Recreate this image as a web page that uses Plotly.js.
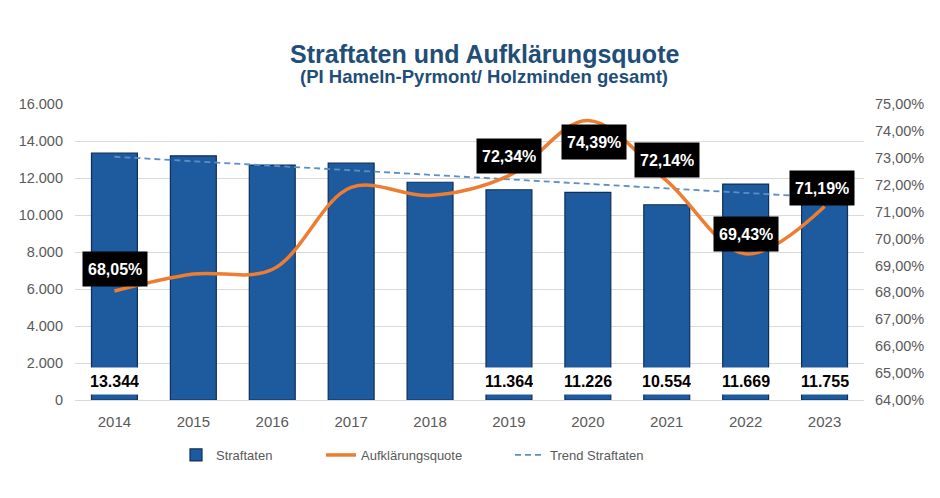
<!DOCTYPE html>
<html>
<head>
<meta charset="utf-8">
<script src="https://cdn.plot.ly/plotly-3.0.1.min.js"></script>
<style>
  html, body { margin: 0; padding: 0; background: #ffffff; }
  #chart { width: 940px; height: 498px; }
</style>
</head>
<body>
<div id="chart"></div>
<script>
// ---- data ----
const years = ['2014', '2015', '2016', '2017', '2018', '2019', '2020', '2021', '2022', '2023'];
const straftaten = [13344, 13200, 12700, 12800, 11770, 11364, 11226, 10554, 11669, 11755];
const aufklaerungsquote = [68.05, 68.68, 68.85, 71.9, 71.6, 72.34, 74.39, 72.14, 69.43, 71.19];
const trendYears = ['2014', '2023'];
const trendValues = [13150, 10950];
const labelledBarYears = ['2014', '2019', '2020', '2021', '2022', '2023'];
const labelledQuoteYears = ['2014', '2019', '2020', '2021', '2022', '2023'];
const leftTicks = [0, 2000, 4000, 6000, 8000, 10000, 12000, 14000, 16000];
const rightTicks = [64, 65, 66, 67, 68, 69, 70, 71, 72, 73, 74, 75];

// ---- label offsets (style only) ----
const quoteLabelShift = {
  '2014': [1, 22], '2019': [0, 20], '2020': [6, -22],
  '2021': [0, 21], '2022': [0, 20], '2023': [-3, 19]
};

const FONT = 'Liberation Sans, Arial, sans-serif';
const fmtInt = v => String(v).replace(/\B(?=(\d{3})+(?!\d))/g, '.');
const fmtPct = v => v.toFixed(2).replace('.', ',') + '%';

const traces = [
  {
    type: 'bar', name: 'Straftaten', x: years, y: straftaten,
    marker: { color: '#1e5a9e', line: { color: '#0e2f5a', width: 1.2 } },
    legend: 'legend', hoverinfo: 'skip'
  },
  {
    type: 'scatter', mode: 'lines', name: 'Aufklärungsquote', x: years, y: aufklaerungsquote,
    yaxis: 'y2', line: { color: '#ed7d31', width: 3.5, shape: 'spline', smoothing: 1 },
    legend: 'legend2', hoverinfo: 'skip'
  },
  {
    type: 'scatter', mode: 'lines', name: 'Trend Straftaten', x: trendYears, y: trendValues,
    line: { color: '#5b8fc7', width: 1.8, dash: '6px,4px' },
    legend: 'legend3', hoverinfo: 'skip'
  }
];

const annotations = [];
annotations.push({
  xref: 'paper', yref: 'paper', x: 0.5184, y: 1.17, xanchor: 'center', yanchor: 'middle',
  text: '<b>Straftaten und Aufklärungsquote</b>', showarrow: false,
  font: { family: FONT, size: 25, color: '#1f4e79' }
});
annotations.push({
  xref: 'paper', yref: 'paper', x: 0.5184, y: 1.092, xanchor: 'center', yanchor: 'middle',
  text: '<b>(PI Hameln-Pyrmont/ Holzminden gesamt)</b>', showarrow: false,
  font: { family: FONT, size: 18.5, color: '#1f4e79' }
});

labelledBarYears.forEach(yr => {
  const i = years.indexOf(yr);
  annotations.push({
    xref: 'x', yref: 'y', x: i, y: 0, xanchor: 'center', yanchor: 'bottom', yshift: 5,
    text: '<b>' + fmtInt(straftaten[i]) + '</b>', showarrow: false,
    bgcolor: '#ffffff', height: 24, borderpad: 1,
    font: { family: FONT, size: 16, color: '#000000' }
  });
});

labelledQuoteYears.forEach(yr => {
  const i = years.indexOf(yr);
  const s = quoteLabelShift[yr];
  annotations.push({
    xref: 'x', yref: 'y2', x: i, y: aufklaerungsquote[i], xanchor: 'center', yanchor: 'middle',
    xshift: s[0], yshift: s[1],
    text: '<b>' + fmtPct(aufklaerungsquote[i]) + '</b>', showarrow: false,
    bgcolor: '#000000', height: 24, borderpad: 5,
    font: { family: FONT, size: 16, color: '#ffffff' }
  });
});

const legendCommon = {
  orientation: 'h', xref: 'container', yref: 'container', y: 1 - 455 / 498, yanchor: 'middle',
  xanchor: 'left', bgcolor: 'rgba(0,0,0,0)', borderwidth: 0,
  font: { family: FONT, size: 13, color: '#595959' }
};

const layout = {
  width: 940, height: 498,
  margin: { l: 75, r: 76, t: 104, b: 98 },
  paper_bgcolor: '#ffffff', plot_bgcolor: '#ffffff',
  separators: ',.',
  font: { family: FONT, color: '#595959' },
  showlegend: true,
  bargap: 0.418,
  xaxis: {
    type: 'category', categoryorder: 'array', categoryarray: years,
    range: [-0.5, years.length - 0.5],
    showgrid: false, showline: true, linecolor: '#d9d9d9', linewidth: 1,
    ticks: '', ticklabelstandoff: 8, tickfont: { family: FONT, size: 15, color: '#595959' },
    fixedrange: true
  },
  yaxis: {
    range: [0, 16000], tickvals: leftTicks, ticktext: leftTicks.map(fmtInt),
    showgrid: true, gridcolor: '#d9d9d9', gridwidth: 1, zeroline: false, showline: false,
    ticks: '', ticklabelstandoff: 11,
    tickfont: { family: FONT, size: 14.5, color: '#595959' }
  },
  yaxis2: {
    overlaying: 'y', side: 'right', range: [64, 75], tickvals: rightTicks,
    ticktext: rightTicks.map(fmtPct), showgrid: false, zeroline: false, showline: false,
    ticks: '', ticklabelstandoff: 10,
    tickfont: { family: FONT, size: 14.5, color: '#595959' }
  },
  legend: Object.assign({}, legendCommon, { x: 176 / 940 }),
  legend2: Object.assign({}, legendCommon, { x: 321 / 940 }),
  legend3: Object.assign({}, legendCommon, { x: 510 / 940 }),
  annotations: annotations
};

Plotly.newPlot('chart', traces, layout, { displayModeBar: false, staticPlot: true });
</script>
</body>
</html>
